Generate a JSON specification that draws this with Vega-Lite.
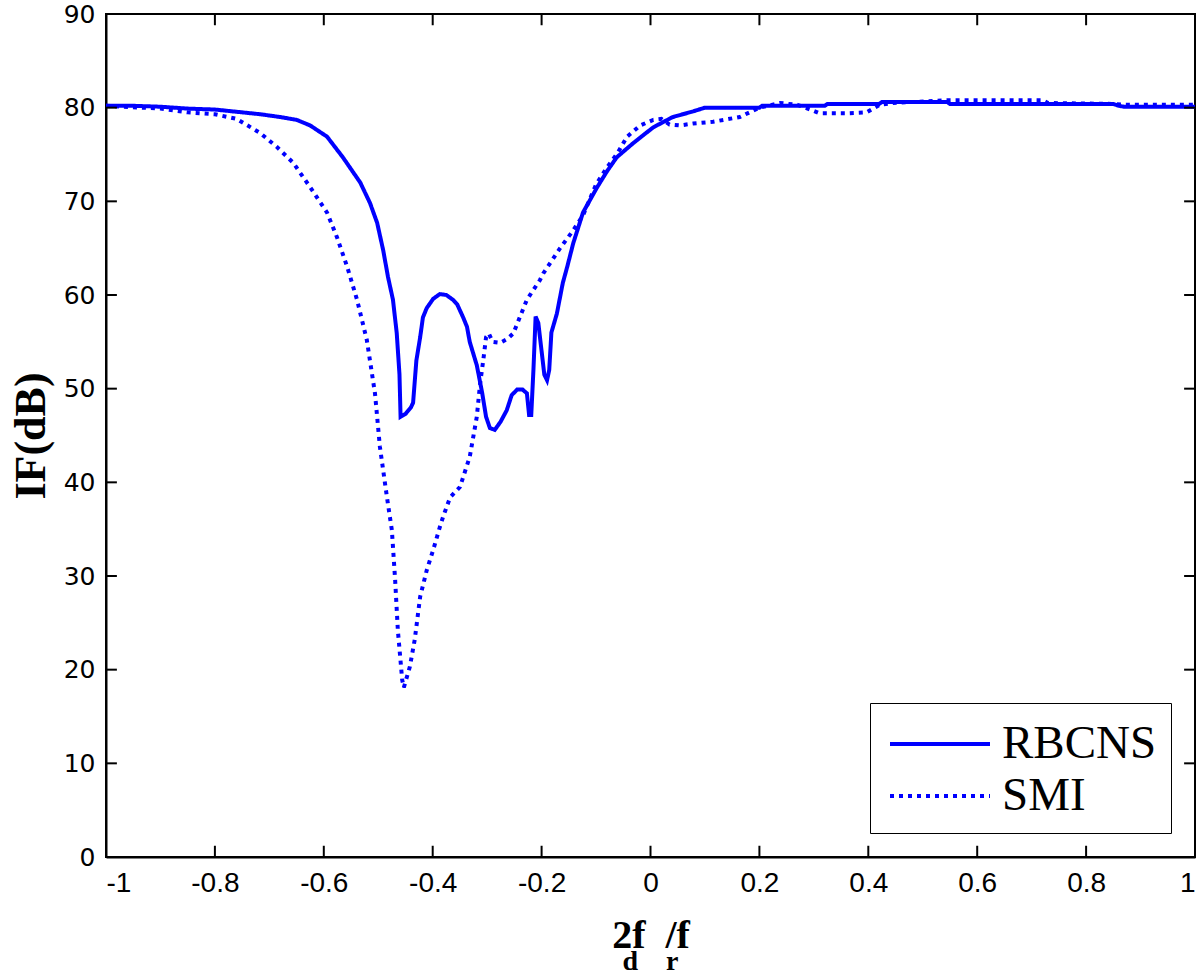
{
  "$schema": "https://vega.github.io/schema/vega-lite/v6.json",
  "autosize": {"type": "none"},
  "padding": {"left": 106, "top": 14, "right": 5, "bottom": 119},
  "width": 1089,
  "height": 843,
  "background": "white",
  "title": {"text": "\u2003\u2009d\u2003r", "orient": "bottom", "anchor": "middle", "frame": "group", "font": "Liberation Serif", "fontWeight": "bold", "fontSize": 28, "color": "black", "offset": -7},
  "config": {
    "view": {"stroke": "black", "strokeWidth": 2},
    "axis": {"grid": false, "domainColor": "black", "domainWidth": 2, "labelColor": "black", "titleColor": "black"}
  },
  "datasets": {
    "xt": [{"t": -1}, {"t": -0.8}, {"t": -0.6}, {"t": -0.4}, {"t": -0.2}, {"t": 0}, {"t": 0.2}, {"t": 0.4}, {"t": 0.6}, {"t": 0.8}, {"t": 1}],
    "yt": [{"t": 0}, {"t": 10}, {"t": 20}, {"t": 30}, {"t": 40}, {"t": 50}, {"t": 60}, {"t": 70}, {"t": 80}, {"t": 90}]
  },
  "data": {"values": [
    {"x": -1.0, "y": 80.2, "s": "RBCNS"}, {"x": -0.95, "y": 80.2, "s": "RBCNS"}, {"x": -0.9, "y": 80.1, "s": "RBCNS"}, {"x": -0.85, "y": 79.9, "s": "RBCNS"}, {"x": -0.8, "y": 79.8, "s": "RBCNS"}, {"x": -0.75, "y": 79.5, "s": "RBCNS"}, {"x": -0.717, "y": 79.3, "s": "RBCNS"}, {"x": -0.68, "y": 79.0, "s": "RBCNS"}, {"x": -0.65, "y": 78.7, "s": "RBCNS"}, {"x": -0.625, "y": 78.1, "s": "RBCNS"}, {"x": -0.594, "y": 76.9, "s": "RBCNS"}, {"x": -0.565, "y": 74.7, "s": "RBCNS"}, {"x": -0.533, "y": 72.0, "s": "RBCNS"}, {"x": -0.515, "y": 69.8, "s": "RBCNS"}, {"x": -0.502, "y": 67.7, "s": "RBCNS"}, {"x": -0.491, "y": 64.8, "s": "RBCNS"}, {"x": -0.482, "y": 61.9, "s": "RBCNS"}, {"x": -0.473, "y": 59.5, "s": "RBCNS"}, {"x": -0.466, "y": 55.9, "s": "RBCNS"}, {"x": -0.461, "y": 51.5, "s": "RBCNS"}, {"x": -0.459, "y": 47.0, "s": "RBCNS"}, {"x": -0.45, "y": 47.3, "s": "RBCNS"}, {"x": -0.44, "y": 48.0, "s": "RBCNS"}, {"x": -0.436, "y": 48.5, "s": "RBCNS"}, {"x": -0.43, "y": 53.0, "s": "RBCNS"}, {"x": -0.423, "y": 55.5, "s": "RBCNS"}, {"x": -0.418, "y": 57.6, "s": "RBCNS"}, {"x": -0.411, "y": 58.6, "s": "RBCNS"}, {"x": -0.399, "y": 59.6, "s": "RBCNS"}, {"x": -0.387, "y": 60.1, "s": "RBCNS"}, {"x": -0.375, "y": 60.0, "s": "RBCNS"}, {"x": -0.363, "y": 59.5, "s": "RBCNS"}, {"x": -0.355, "y": 59.0, "s": "RBCNS"}, {"x": -0.344, "y": 57.6, "s": "RBCNS"}, {"x": -0.337, "y": 56.6, "s": "RBCNS"}, {"x": -0.332, "y": 55.0, "s": "RBCNS"}, {"x": -0.319, "y": 52.5, "s": "RBCNS"}, {"x": -0.309, "y": 49.5, "s": "RBCNS"}, {"x": -0.302, "y": 47.0, "s": "RBCNS"}, {"x": -0.295, "y": 45.8, "s": "RBCNS"}, {"x": -0.286, "y": 45.6, "s": "RBCNS"}, {"x": -0.275, "y": 46.5, "s": "RBCNS"}, {"x": -0.264, "y": 47.7, "s": "RBCNS"}, {"x": -0.255, "y": 49.3, "s": "RBCNS"}, {"x": -0.245, "y": 49.9, "s": "RBCNS"}, {"x": -0.235, "y": 49.9, "s": "RBCNS"}, {"x": -0.227, "y": 49.5, "s": "RBCNS"}, {"x": -0.223, "y": 47.2, "s": "RBCNS"}, {"x": -0.219, "y": 47.2, "s": "RBCNS"}, {"x": -0.215, "y": 52.0, "s": "RBCNS"}, {"x": -0.211, "y": 57.7, "s": "RBCNS"}, {"x": -0.206, "y": 57.0, "s": "RBCNS"}, {"x": -0.2, "y": 54.0, "s": "RBCNS"}, {"x": -0.195, "y": 51.5, "s": "RBCNS"}, {"x": -0.19, "y": 50.9, "s": "RBCNS"}, {"x": -0.186, "y": 52.0, "s": "RBCNS"}, {"x": -0.182, "y": 56.0, "s": "RBCNS"}, {"x": -0.172, "y": 58.0, "s": "RBCNS"}, {"x": -0.161, "y": 61.3, "s": "RBCNS"}, {"x": -0.153, "y": 63.0, "s": "RBCNS"}, {"x": -0.142, "y": 65.5, "s": "RBCNS"}, {"x": -0.124, "y": 68.8, "s": "RBCNS"}, {"x": -0.098, "y": 71.5, "s": "RBCNS"}, {"x": -0.08, "y": 73.2, "s": "RBCNS"}, {"x": -0.062, "y": 74.7, "s": "RBCNS"}, {"x": -0.032, "y": 76.2, "s": "RBCNS"}, {"x": 0.005, "y": 77.9, "s": "RBCNS"}, {"x": 0.041, "y": 79.0, "s": "RBCNS"}, {"x": 0.078, "y": 79.6, "s": "RBCNS"}, {"x": 0.1, "y": 80.0, "s": "RBCNS"}, {"x": 0.2, "y": 80.0, "s": "RBCNS"}, {"x": 0.205, "y": 80.2, "s": "RBCNS"}, {"x": 0.32, "y": 80.2, "s": "RBCNS"}, {"x": 0.325, "y": 80.4, "s": "RBCNS"}, {"x": 0.42, "y": 80.4, "s": "RBCNS"}, {"x": 0.425, "y": 80.6, "s": "RBCNS"}, {"x": 0.545, "y": 80.6, "s": "RBCNS"}, {"x": 0.55, "y": 80.4, "s": "RBCNS"}, {"x": 0.85, "y": 80.4, "s": "RBCNS"}, {"x": 0.86, "y": 80.2, "s": "RBCNS"}, {"x": 0.87, "y": 80.1, "s": "RBCNS"}, {"x": 1.0, "y": 80.1, "s": "RBCNS"},
    {"x": -1.0, "y": 80.2, "s": "SMI"}, {"x": -0.9, "y": 79.9, "s": "SMI"}, {"x": -0.85, "y": 79.5, "s": "SMI"}, {"x": -0.8, "y": 79.3, "s": "SMI"}, {"x": -0.76, "y": 78.8, "s": "SMI"}, {"x": -0.717, "y": 77.3, "s": "SMI"}, {"x": -0.686, "y": 75.8, "s": "SMI"}, {"x": -0.656, "y": 74.1, "s": "SMI"}, {"x": -0.625, "y": 71.5, "s": "SMI"}, {"x": -0.594, "y": 68.8, "s": "SMI"}, {"x": -0.576, "y": 66.2, "s": "SMI"}, {"x": -0.557, "y": 63.0, "s": "SMI"}, {"x": -0.539, "y": 59.5, "s": "SMI"}, {"x": -0.521, "y": 55.2, "s": "SMI"}, {"x": -0.506, "y": 49.5, "s": "SMI"}, {"x": -0.497, "y": 43.8, "s": "SMI"}, {"x": -0.484, "y": 38.4, "s": "SMI"}, {"x": -0.475, "y": 34.9, "s": "SMI"}, {"x": -0.469, "y": 29.6, "s": "SMI"}, {"x": -0.464, "y": 24.2, "s": "SMI"}, {"x": -0.456, "y": 18.9, "s": "SMI"}, {"x": -0.453, "y": 18.1, "s": "SMI"}, {"x": -0.442, "y": 20.3, "s": "SMI"}, {"x": -0.433, "y": 23.2, "s": "SMI"}, {"x": -0.423, "y": 27.8, "s": "SMI"}, {"x": -0.411, "y": 30.6, "s": "SMI"}, {"x": -0.399, "y": 32.8, "s": "SMI"}, {"x": -0.387, "y": 35.2, "s": "SMI"}, {"x": -0.381, "y": 36.3, "s": "SMI"}, {"x": -0.368, "y": 38.4, "s": "SMI"}, {"x": -0.35, "y": 39.5, "s": "SMI"}, {"x": -0.332, "y": 42.7, "s": "SMI"}, {"x": -0.319, "y": 47.0, "s": "SMI"}, {"x": -0.313, "y": 50.5, "s": "SMI"}, {"x": -0.307, "y": 53.1, "s": "SMI"}, {"x": -0.302, "y": 55.5, "s": "SMI"}, {"x": -0.297, "y": 55.9, "s": "SMI"}, {"x": -0.29, "y": 55.0, "s": "SMI"}, {"x": -0.276, "y": 54.9, "s": "SMI"}, {"x": -0.263, "y": 55.3, "s": "SMI"}, {"x": -0.252, "y": 55.9, "s": "SMI"}, {"x": -0.227, "y": 59.5, "s": "SMI"}, {"x": -0.203, "y": 61.6, "s": "SMI"}, {"x": -0.197, "y": 62.3, "s": "SMI"}, {"x": -0.166, "y": 65.0, "s": "SMI"}, {"x": -0.142, "y": 66.9, "s": "SMI"}, {"x": -0.124, "y": 68.5, "s": "SMI"}, {"x": -0.1, "y": 71.8, "s": "SMI"}, {"x": -0.08, "y": 73.6, "s": "SMI"}, {"x": -0.06, "y": 75.2, "s": "SMI"}, {"x": -0.043, "y": 76.9, "s": "SMI"}, {"x": -0.019, "y": 78.1, "s": "SMI"}, {"x": 0.005, "y": 78.7, "s": "SMI"}, {"x": 0.02, "y": 78.8, "s": "SMI"}, {"x": 0.035, "y": 78.2, "s": "SMI"}, {"x": 0.054, "y": 78.1, "s": "SMI"}, {"x": 0.078, "y": 78.3, "s": "SMI"}, {"x": 0.115, "y": 78.5, "s": "SMI"}, {"x": 0.164, "y": 79.0, "s": "SMI"}, {"x": 0.2, "y": 80.0, "s": "SMI"}, {"x": 0.238, "y": 80.5, "s": "SMI"}, {"x": 0.27, "y": 80.3, "s": "SMI"}, {"x": 0.298, "y": 79.7, "s": "SMI"}, {"x": 0.311, "y": 79.4, "s": "SMI"}, {"x": 0.36, "y": 79.4, "s": "SMI"}, {"x": 0.397, "y": 79.5, "s": "SMI"}, {"x": 0.421, "y": 80.3, "s": "SMI"}, {"x": 0.445, "y": 80.5, "s": "SMI"}, {"x": 0.55, "y": 80.8, "s": "SMI"}, {"x": 0.72, "y": 80.8, "s": "SMI"}, {"x": 0.73, "y": 80.5, "s": "SMI"}, {"x": 0.85, "y": 80.4, "s": "SMI"}, {"x": 0.87, "y": 80.3, "s": "SMI"}, {"x": 1.0, "y": 80.3, "s": "SMI"}
  ]},
  "layer": [
    {
      "mark": {"type": "line", "color": "#0000ff", "strokeWidth": 4, "clip": true},
      "encoding": {
        "x": {"field": "x", "type": "quantitative", "scale": {"domain": [-1, 1], "nice": false, "zero": false},
          "axis": {"orient": "bottom", "values": [-1, -0.8, -0.6, -0.4, -0.2, 0, 0.2, 0.4, 0.6, 0.8, 1], "format": "~g", "ticks": false,
            "labelExpr": "replace(datum.label, '\u2212', '-')",
            "labelFont": "Liberation Sans", "labelFontSize": 28, "labelPadding": 12,
            "title": "2f\u2002/f\u2004", "titleFont": "Liberation Serif", "titleFontWeight": "bold", "titleFontSize": 40, "titlePadding": 18}},
        "y": {"field": "y", "type": "quantitative", "scale": {"domain": [0, 90], "nice": false},
          "axis": {"orient": "left", "values": [0, 10, 20, 30, 40, 50, 60, 70, 80, 90], "ticks": false,
            "labelFont": "DejaVu Sans", "labelFontSize": 25, "labelPadding": 11,
            "title": "IF(dB)", "titleFont": "Liberation Serif", "titleFontWeight": "bold", "titleFontSize": 44, "titlePadding": 10}},
        "detail": {"field": "s"},
        "strokeDash": {"field": "s", "type": "nominal", "scale": {"domain": ["RBCNS", "SMI"], "range": [[1, 0], [4, 5]]},
          "legend": {"orient": "bottom-right", "offset": 24, "title": null, "strokeColor": "black", "fillColor": "white", "padding": 14,
            "symbolType": "M-0.84,0H3.16", "symbolSize": 2500, "symbolStrokeWidth": 4, "symbolStrokeColor": "#0000ff", "symbolFillColor": "transparent",
            "labelFont": "Liberation Serif", "labelFontSize": 47, "labelColor": "black", "labelOffset": 64, "rowPadding": 2}}
      }
    },
    {
      "data": {"name": "xt"},
      "mark": {"type": "rule", "color": "black", "strokeWidth": 2},
      "encoding": {
        "x": {"field": "t", "type": "quantitative", "axis": null},
        "y": {"datum": 0, "type": "quantitative", "axis": null},
        "y2": {"datum": 1.2}
      }
    },
    {
      "data": {"name": "xt"},
      "mark": {"type": "rule", "color": "black", "strokeWidth": 2},
      "encoding": {
        "x": {"field": "t", "type": "quantitative", "axis": null},
        "y": {"datum": 90, "type": "quantitative", "axis": null},
        "y2": {"datum": 88.8}
      }
    },
    {
      "data": {"name": "yt"},
      "mark": {"type": "rule", "color": "black", "strokeWidth": 2},
      "encoding": {
        "y": {"field": "t", "type": "quantitative", "axis": null},
        "x": {"datum": -1, "type": "quantitative", "axis": null},
        "x2": {"datum": -0.98}
      }
    },
    {
      "data": {"name": "yt"},
      "mark": {"type": "rule", "color": "black", "strokeWidth": 2},
      "encoding": {
        "y": {"field": "t", "type": "quantitative", "axis": null},
        "x": {"datum": 1, "type": "quantitative", "axis": null},
        "x2": {"datum": 0.98}
      }
    }
  ],
  "resolve": {"axis": {"x": "independent", "y": "independent"}}
}
